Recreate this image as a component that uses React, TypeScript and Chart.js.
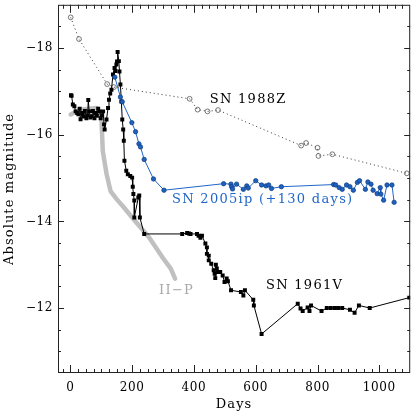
import React, { useEffect, useRef } from "react";
import { Chart, registerables } from "chart.js";
Chart.register(...registerables);

// SN 1961V (black squares)
const v1961Days = [2, 4, 8, 13, 17, 22, 26, 30, 33, 38, 43, 47, 52, 56, 58, 61, 65, 69, 73, 78, 82, 86, 90, 95, 98, 103, 106, 109, 111, 117, 122, 125, 129, 133, 138, 143, 146, 149, 151, 153, 157, 159, 162, 165, 168, 171, 173, 175, 181, 186, 194, 200, 202, 204, 207, 207, 220, 223, 225, 239, 362, 378, 384, 389, 410, 415, 421, 426, 437, 442, 442, 448, 448, 456, 464, 467, 469, 471, 474, 478, 485, 493, 499, 506, 510, 520, 552, 560, 565, 592, 594, 619, 736, 745, 752, 768, 774, 779, 813, 830, 843, 856, 867, 880, 905, 920, 934, 969, 1097];
const v1961Mag = [-16.91, -16.9, -16.7, -16.66, -16.54, -16.5, -16.47, -16.6, -16.36, -16.5, -16.42, -16.55, -16.38, -16.45, -16.8, -16.54, -16.4, -16.43, -16.55, -16.38, -16.5, -16.44, -16.6, -16.54, -16.38, -16.45, -16.54, -16.24, -16.12, -16.35, -16.62, -16.81, -16.95, -17.04, -17.39, -17.54, -17.47, -17.62, -17.69, -17.91, -17.7, -17.46, -17.16, -16.77, -16.35, -16.12, -15.86, -15.4, -15.17, -15.09, -15.05, -15.01, -14.8, -14.63, -14.48, -14.09, -14.55, -14.6, -14.09, -13.71, -13.71, -13.73, -13.72, -13.71, -13.71, -13.67, -13.62, -13.67, -13.49, -13.4, -13.25, -13.21, -13.1, -13.02, -12.87, -12.79, -12.69, -13.0, -12.91, -12.83, -12.83, -12.75, -12.6, -12.68, -12.62, -12.41, -12.37, -12.29, -12.41, -12.19, -12.06, -11.4, -12.1, -11.99, -11.93, -12.01, -11.93, -12.06, -11.93, -12.0, -12.0, -12.0, -12.0, -12.0, -11.96, -11.89, -12.06, -12.0, -12.24];

// SN 2005ip (+130 days), blue circles
const ip2005Days = [144, 162, 168, 199, 211, 222, 227, 239, 269, 303, 496, 520, 522, 525, 538, 560, 571, 576, 600, 619, 633, 642, 651, 683, 852, 859, 870, 880, 894, 905, 916, 929, 936, 955, 963, 973, 980, 993, 1003, 1005, 1014, 1025, 1041, 1048];
const ip2005Mag = [-17.33, -16.87, -16.76, -16.28, -16.07, -15.79, -15.72, -15.43, -14.98, -14.72, -14.87, -14.86, -14.8, -14.75, -14.86, -14.74, -14.82, -14.77, -14.94, -14.84, -14.82, -14.84, -14.76, -14.8, -14.85, -14.84, -14.78, -14.74, -14.84, -14.8, -14.72, -14.9, -14.94, -14.74, -14.91, -14.86, -14.72, -14.64, -14.78, -14.63, -14.49, -14.84, -14.84, -14.44];

// SN 1988Z, open circles, dotted
const z1988Days = [1, 28, 119, 141, 386, 412, 444, 478, 747, 763, 800, 803, 848, 1089];
const z1988Mag = [-18.71, -18.21, -17.17, -17.1, -16.83, -16.58, -16.54, -16.57, -15.75, -15.81, -15.7, -15.51, -15.55, -15.11];

// II-P template, thick gray
const iipDays = [1, 31, 60, 85, 100, 105, 117, 130, 149, 170, 213, 255, 298, 325, 339];
const iipMag = [-16.47, -16.58, -16.6, -16.62, -16.47, -15.62, -15.1, -14.7, -14.52, -14.35, -13.98, -13.63, -13.17, -12.91, -12.68];

const xTicks = [0, 200, 400, 600, 800, 1000];
const yTicks = [-18, -16, -14, -12];

const toPts = (d: number[], m: number[]) => d.map((x, i) => ({ x, y: m[i] }));

const SERIF = '"DejaVu Serif", serif';
const BLUE = "#1f66c8";

const decor = {
  id: "decor",
  afterDraw(chart: any) {
    const { ctx, chartArea: a, scales } = chart;
    const xs = scales.x, ys = scales.y;
    ctx.save();
    ctx.strokeStyle = "#222";
    ctx.lineWidth = 1;
    ctx.strokeRect(a.left + 0.5, a.top + 0.5, a.right - a.left - 1, a.bottom - a.top - 1);
    ctx.beginPath();
    for (let d = -25; d <= 1100; d += 25) {
      const px = Math.round(xs.getPixelForValue(d)) + 0.5;
      if (px <= a.left + 1 || px >= a.right - 1) continue;
      const len = d % 200 === 0 ? 8 : 4;
      ctx.moveTo(px, a.bottom);
      ctx.lineTo(px, a.bottom - len);
      ctx.moveTo(px, a.top);
      ctx.lineTo(px, a.top + len);
    }
    for (let m = -19; m <= -10.5; m += 0.5) {
      const py = Math.round(ys.getPixelForValue(m)) + 0.5;
      if (py <= a.top + 1 || py >= a.bottom - 1) continue;
      const len = m % 2 === 0 ? 6 : 3;
      ctx.moveTo(a.left, py);
      ctx.lineTo(a.left + len, py);
      ctx.moveTo(a.right, py);
      ctx.lineTo(a.right - len, py);
    }
    ctx.stroke();

    ctx.fillStyle = "#000";
    (ctx as any).letterSpacing = "0.6px";
    ctx.font = `12px ${SERIF}`;
    ctx.textBaseline = "middle";
    ctx.textAlign = "center";
    xTicks.forEach((v) => ctx.fillText(String(v), xs.getPixelForValue(v), 388));
    ctx.textAlign = "right";
    yTicks.forEach((v) => ctx.fillText("\u2212" + String(Math.abs(v)), 53, ys.getPixelForValue(v)));

    (ctx as any).letterSpacing = "1.1px";
    ctx.font = `13px ${SERIF}`;
    ctx.textAlign = "center";
    ctx.fillText("Days", (a.left + a.right) / 2, 405);
    ctx.save();
    ctx.translate(10, (a.top + a.bottom) / 2);
    ctx.rotate(-Math.PI / 2);
    ctx.fillText("Absolute magnitude", 0, 0);
    ctx.restore();

    (ctx as any).letterSpacing = "1.3px";
    ctx.textAlign = "left";
    ctx.fillStyle = "#000";
    ctx.fillText("SN 1988Z", xs.getPixelForValue(451), ys.getPixelForValue(-16.82));
    ctx.fillText("SN 1961V", xs.getPixelForValue(633), ys.getPixelForValue(-12.52));
    ctx.fillStyle = BLUE;
    ctx.fillText("SN 2005ip (+130 days)", xs.getPixelForValue(329), ys.getPixelForValue(-14.5));
    ctx.fillStyle = "#a8a8a8";
    ctx.fillText("II\u2212P", xs.getPixelForValue(287), ys.getPixelForValue(-12.41));
    ctx.restore();
  },
};

export default function App() {
  const ref = useRef<HTMLCanvasElement>(null);
  useEffect(() => {
    document.body.style.margin = "0";
    const chart = new Chart(ref.current as HTMLCanvasElement, {
      type: "scatter",
      data: {
        datasets: [
          {
            data: toPts(iipDays, iipMag),
            showLine: true,
            borderColor: "#c0c0c0",
            borderWidth: 4.5,
            borderCapStyle: "round",
            borderJoinStyle: "round",
            pointRadius: 0,
            order: 4,
          },
          {
            data: toPts(z1988Days, z1988Mag),
            showLine: true,
            borderColor: "#333",
            borderWidth: 1,
            borderDash: [1, 3],
            pointStyle: "circle",
            pointRadius: 2.4,
            pointBorderWidth: 0.8,
            pointBorderColor: "#555",
            pointBackgroundColor: "rgba(255,255,255,0)",
            order: 3,
          },
          {
            data: toPts(v1961Days, v1961Mag),
            showLine: true,
            borderColor: "#000",
            borderWidth: 1,
            pointStyle: "rect",
            pointRadius: 2.8,
            pointBorderWidth: 0,
            pointBackgroundColor: "#000",
            order: 2,
          },
          {
            data: toPts(ip2005Days, ip2005Mag),
            showLine: true,
            borderColor: BLUE,
            borderWidth: 1,
            pointStyle: "circle",
            pointRadius: 2.2,
            pointBorderWidth: 0.7,
            pointBorderColor: "#0b3a80",
            pointBackgroundColor: "#1f63c0",
            order: 1,
          },
        ],
      },
      options: {
        animation: false,
        responsive: false,
        layout: { padding: { left: 58, top: 4, right: 2, bottom: 42 } },
        plugins: { legend: { display: false }, tooltip: { enabled: false } },
        scales: {
          x: { type: "linear", min: -40, max: 1100, display: false },
          y: { type: "linear", min: -19, max: -10.5, reverse: true, display: false },
        },
      },
      plugins: [decor],
    });
    return () => chart.destroy();
  }, []);
  return <canvas ref={ref} width={415} height={415} style={{ width: 415, height: 415, display: "block" }} />;
}
